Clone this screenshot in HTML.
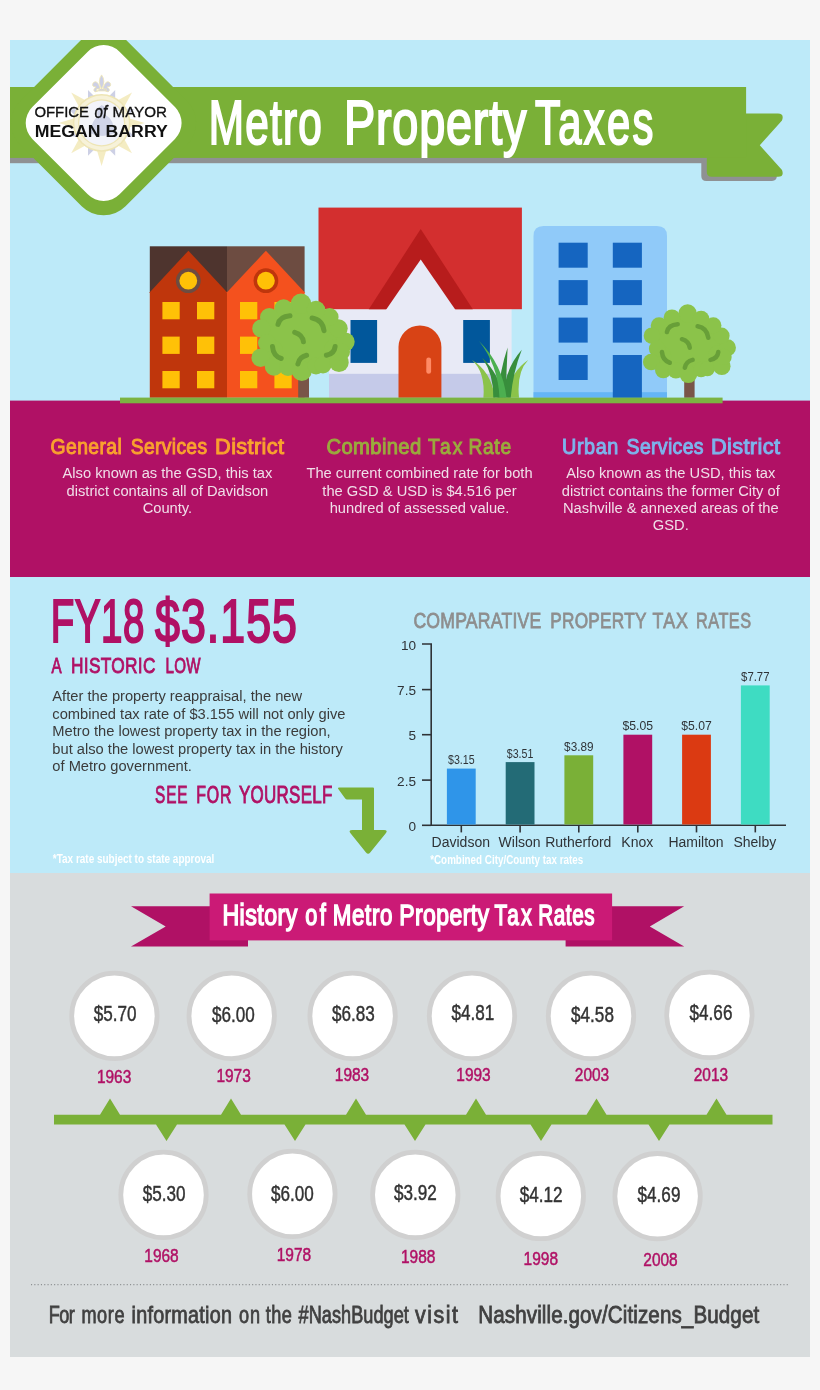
<!DOCTYPE html>
<html lang="en"><head><meta charset="utf-8"><title>Metro Property Taxes</title>
<style>
html,body{margin:0;padding:0;background:#f6f6f6;}
body{width:820px;height:1390px;overflow:hidden;}
svg{display:block;}
text{font-family:"Liberation Sans",Arial,sans-serif;}
</style></head><body>
<svg width="820" height="1390" viewBox="0 0 820 1390">
<defs><clipPath id="page"><rect x="10" y="40" width="800" height="1317"/></clipPath></defs>
<rect width="820" height="1390" fill="#f6f6f6"/>
<g clip-path="url(#page)">
<rect x="10" y="40" width="800" height="361" fill="#bdeaf9"/>
<rect x="10" y="400.6" width="800" height="176.4" fill="#b01165"/>
<rect x="10" y="577" width="800" height="296" fill="#bdeaf9"/>
<rect x="10" y="873" width="800" height="484" fill="#d8dcdd"/>
<rect x="10" y="157" width="692" height="6.2" fill="#8f9193"/>
<path d="M701.3 150 H740 V176 Q740 181 735 181 H706.3 Q701.3 181 701.3 176 Z" fill="#8f9193"/>
<path d="M720 170 H776 Q779 181 772 181 H720 Z" fill="#8f9193"/>
<path d="M706.8 113.6 H778 Q784.5 113.6 782 120.5 L759.8 145.3 L782 170 Q784.5 176.8 778 176.8 H711.8 Q706.8 176.8 706.8 171.8 Z" fill="#7ab037"/>
<rect x="10" y="87" width="736.1" height="70.9" fill="#7ab037"/>
<rect x="-74.5" y="-74.5" width="149" height="149" rx="31" fill="#7ab037" transform="translate(103.6 122.8) rotate(45)"/>
<rect x="-61.7" y="-61.7" width="123.4" height="123.4" rx="22.5" fill="#ffffff" transform="translate(103.65 123) rotate(45)"/>
<g opacity="0.66">
<path d="M107.7 97.6 L115.2 90.1 L115.2 100.7 Z" fill="#b4b9d8"/>
<path d="M116.0 101.2 L132.0 92.5 L123.3 108.5 Z" fill="#efe3a4"/>
<path d="M123.8 109.3 L134.4 109.3 L126.9 116.8 Z" fill="#b4b9d8"/>
<path d="M127.1 117.7 L144.6 122.9 L127.1 128.1 Z" fill="#efe3a4"/>
<path d="M126.9 129.0 L134.4 136.5 L123.8 136.5 Z" fill="#b4b9d8"/>
<path d="M123.3 137.3 L132.0 153.3 L116.0 144.6 Z" fill="#efe3a4"/>
<path d="M115.2 145.1 L115.2 155.7 L107.7 148.2 Z" fill="#b4b9d8"/>
<path d="M106.8 148.4 L101.6 165.9 L96.4 148.4 Z" fill="#efe3a4"/>
<path d="M95.5 148.2 L88.0 155.7 L88.0 145.1 Z" fill="#b4b9d8"/>
<path d="M87.2 144.6 L71.2 153.3 L79.9 137.3 Z" fill="#efe3a4"/>
<path d="M79.4 136.5 L68.8 136.5 L76.3 129.0 Z" fill="#b4b9d8"/>
<path d="M76.1 128.1 L58.6 122.9 L76.1 117.7 Z" fill="#efe3a4"/>
<path d="M76.3 116.8 L68.8 109.3 L79.4 109.3 Z" fill="#b4b9d8"/>
<path d="M79.9 108.5 L71.2 92.5 L87.2 101.2 Z" fill="#efe3a4"/>
<path d="M88.0 100.7 L88.0 90.1 L95.5 97.6 Z" fill="#b4b9d8"/>
<circle cx="101.6" cy="122.9" r="28.8" fill="#e6d88f"/>
<circle cx="101.6" cy="122.9" r="27.3" fill="#f3ecc6"/>
<circle cx="101.6" cy="122.9" r="23.6" fill="#e6d88f"/>
<circle cx="101.6" cy="122.9" r="22.4" fill="#edeff8"/>
<path d="M89.6 132.9 q3 -14 8 -16 q-2 -8 4 -12 q6 2 4 10 q8 4 9 18 q-12 6 -25 0 Z" fill="#b9bfdd"/>
<path d="M101.6 74.9 q4.5 6 0 14 q-4.5 -8 0 -14 Z M100.1 87.9 q-3 -9 -7 -5 q-2 4 3 4 q-4 3 -1 5 q3 0 5 -4 Z M103.1 87.9 q3 -9 7 -5 q2 4 -3 4 q4 3 1 5 q-3 0 -5 -4 Z M96.6 88.9 h10 v2 h-10 Z" fill="#b4b9d8" stroke="#e6d88f" stroke-width="0.8"/>
</g>
<text x="34.4" y="117" font-size="15" font-weight="normal" fill="#111" text-anchor="start" textLength="54.6" lengthAdjust="spacingAndGlyphs" stroke="#111" stroke-width="0.35">OFFICE</text>
<text x="94.5" y="117.6" font-size="17.5" font-style="italic" font-weight="normal" stroke="#111" stroke-width="0.4" fill="#111" font-family="'Liberation Serif',serif" textLength="12.6" lengthAdjust="spacingAndGlyphs">of</text>
<text x="112.6" y="117" font-size="15" font-weight="normal" fill="#111" text-anchor="start" textLength="54.4" lengthAdjust="spacingAndGlyphs" stroke="#111" stroke-width="0.35">MAYOR</text>
<text x="34.8" y="136.6" font-size="16.8" font-weight="bold" fill="#111" text-anchor="start" textLength="133" lengthAdjust="spacingAndGlyphs" >MEGAN BARRY</text>
<text transform="translate(208.8 144.05) scale(0.679 1)" font-size="62.35" font-weight="normal" fill="#ffffff" stroke="#ffffff" stroke-width="2.1" stroke-linejoin="miter" stroke-miterlimit="2.5" textLength="166.5" lengthAdjust="spacing">Metro</text>
<text transform="translate(344.0 144.05) scale(0.751 1)" font-size="62.35" font-weight="normal" fill="#ffffff" stroke="#ffffff" stroke-width="2.1" stroke-linejoin="miter" stroke-miterlimit="2.5" textLength="242.8" lengthAdjust="spacing">Property</text>
<text transform="translate(535.0 144.05) scale(0.669 1)" font-size="62.35" font-weight="normal" fill="#ffffff" stroke="#ffffff" stroke-width="2.1" stroke-linejoin="miter" stroke-miterlimit="2.5" textLength="177.0" lengthAdjust="spacing">Taxes</text>
<rect x="149.8" y="246.3" width="77.2" height="46.5" fill="#4e342e"/>
<rect x="227" y="246.3" width="77.6" height="46.5" fill="#6d4c41"/>
<path d="M149.8 397.8 V292.2 L188.4 250.7 L227 292.2 V397.8 Z" fill="#bf360c"/>
<path d="M227 397.8 V292.2 L265.9 250.7 L304.6 292.2 V397.8 Z" fill="#f4511e"/>
<circle cx="188.3" cy="280.7" r="12.4" fill="#6d4c41"/><circle cx="188.3" cy="280.7" r="8.9" fill="#ffc107"/>
<circle cx="265.9" cy="280.7" r="12.4" fill="#bf360c"/><circle cx="265.9" cy="280.7" r="8.9" fill="#ffc107"/>
<rect x="162.4" y="302" width="17.3" height="17.3" fill="#ffc107"/>
<rect x="162.4" y="336.6" width="17.3" height="17.3" fill="#ffc107"/>
<rect x="162.4" y="371" width="17.3" height="17.3" fill="#ffc107"/>
<rect x="197" y="302" width="17.3" height="17.3" fill="#ffc107"/>
<rect x="197" y="336.6" width="17.3" height="17.3" fill="#ffc107"/>
<rect x="197" y="371" width="17.3" height="17.3" fill="#ffc107"/>
<rect x="240" y="302" width="17.3" height="17.3" fill="#ffc107"/>
<rect x="240" y="336.6" width="17.3" height="17.3" fill="#ffc107"/>
<rect x="240" y="371" width="17.3" height="17.3" fill="#ffc107"/>
<rect x="274.4" y="302" width="17.3" height="17.3" fill="#ffc107"/>
<rect x="274.4" y="336.6" width="17.3" height="17.3" fill="#ffc107"/>
<rect x="274.4" y="371" width="17.3" height="17.3" fill="#ffc107"/>
<rect x="329" y="300" width="182.6" height="74" fill="#e8eaf6"/>
<rect x="329" y="373.8" width="182.6" height="24" fill="#c5cae9"/>
<rect x="318.5" y="207.6" width="203.4" height="101.6" fill="#d32f2f"/>
<path d="M420.7 229 L472.8 309.2 H368.8 Z" fill="#b71c1c"/>
<path d="M420.7 259.5 L455.2 309.4 V311 H386.2 V309.4 Z" fill="#e8eaf6"/>
<rect x="350.5" y="320" width="26.6" height="42.9" fill="#01579b"/>
<rect x="463.2" y="320" width="26.7" height="42.9" fill="#01579b"/>
<path d="M398.5 397.8 V347 A21.45 21.6 0 0 1 441.4 347 V397.8 Z" fill="#d84315"/>
<rect x="426.3" y="357.4" width="4.8" height="16.4" rx="2.4" fill="#ff8a65"/>
<path d="M533.5 397.8 V236 Q533.5 226 543.5 226 H657 Q667 226 667 236 V397.8 Z" fill="#90caf9"/>
<rect x="533.5" y="392.2" width="133.5" height="5.6" fill="#64b5f6"/>
<rect x="558.6" y="242.7" width="29.1" height="25" fill="#1565c0"/>
<rect x="558.6" y="280.1" width="29.1" height="25" fill="#1565c0"/>
<rect x="558.6" y="317.6" width="29.1" height="25" fill="#1565c0"/>
<rect x="558.6" y="355" width="29.1" height="25" fill="#1565c0"/>
<rect x="612.8" y="242.7" width="29.1" height="25" fill="#1565c0"/>
<rect x="612.8" y="280.1" width="29.1" height="25" fill="#1565c0"/>
<rect x="612.8" y="317.6" width="29.1" height="25" fill="#1565c0"/>
<rect x="612.8" y="355" width="29.1" height="42.8" fill="#1565c0"/>
<rect x="298.2" y="360" width="10.8" height="37.8" fill="#795548"/>
<g><ellipse cx="303" cy="338" rx="41" ry="32" fill="#8bc34a"/><circle cx="272" cy="351" r="11" fill="#8bc34a"/><circle cx="335" cy="350" r="11" fill="#8bc34a"/><circle cx="301" cy="303.8" r="10.2" fill="#8bc34a"/><circle cx="283.6" cy="308.5" r="9.3" fill="#8bc34a"/><circle cx="269.3" cy="317.3" r="9.3" fill="#8bc34a"/><circle cx="261.4" cy="328.4" r="9.2" fill="#8bc34a"/><circle cx="267" cy="343" r="9" fill="#8bc34a"/><circle cx="260.6" cy="357.7" r="9.2" fill="#8bc34a"/><circle cx="274" cy="366.6" r="9.2" fill="#8bc34a"/><circle cx="288" cy="367" r="9" fill="#8bc34a"/><circle cx="301.8" cy="371" r="10" fill="#8bc34a"/><circle cx="316" cy="366" r="8.5" fill="#8bc34a"/><circle cx="323" cy="365" r="8.5" fill="#8bc34a"/><circle cx="339" cy="362.4" r="9.7" fill="#8bc34a"/><circle cx="345.4" cy="341.8" r="9.3" fill="#8bc34a"/><circle cx="341" cy="352" r="9" fill="#8bc34a"/><circle cx="338.5" cy="328.5" r="9.2" fill="#8bc34a"/><circle cx="329.6" cy="317" r="9" fill="#8bc34a"/><circle cx="316" cy="310" r="9.3" fill="#8bc34a"/><path d="M278 324.4 Q279.6 316.5 290 315.7" fill="none" stroke="#689f38" stroke-width="5" stroke-linecap="round"/><path d="M312.1 318 Q322.4 319.6 324 330.7" fill="none" stroke="#689f38" stroke-width="5" stroke-linecap="round"/><path d="M294.7 332.3 Q302.6 334.7 303.4 341.8" fill="none" stroke="#689f38" stroke-width="5" stroke-linecap="round"/><path d="M272.5 346.6 Q273.3 356.1 281.2 358.5" fill="none" stroke="#689f38" stroke-width="5" stroke-linecap="round"/><path d="M297.9 364 Q299.4 356.9 306.6 355.3" fill="none" stroke="#689f38" stroke-width="5" stroke-linecap="round"/><path d="M326.4 355.3 Q334.3 353.7 335.1 346.6" fill="none" stroke="#689f38" stroke-width="5" stroke-linecap="round"/></g>
<path d="M483.4 397.8 Q485.5 372 471.9 360 Q491 371 495 397.8 Z" fill="#8bc34a"/>
<path d="M519 397.8 Q516.5 372 528.2 360 Q509 373 507.5 397.8 Z" fill="#8bc34a"/>
<path d="M493.3 397.8 Q494 375 482.2 357.7 Q500 375 503.5 397.8 Z" fill="#388e3c"/>
<path d="M503.6 397.8 Q504 370 521.8 349.8 Q513 372 510.7 397.8 Z" fill="#388e3c"/>
<path d="M497.5 397.8 Q500 370 507.6 347.4 Q506.5 372 505.5 397.8 Z" fill="#388e3c"/>
<path d="M499.5 397.8 Q498 365 479 341 Q503 365 506.5 397.8 Z" fill="#4caf50"/>
<rect x="684.2" y="375" width="10.4" height="22.8" fill="#795548"/>
<g transform="translate(689.4 343.6) scale(0.9) translate(-303 -337.2)"><g><ellipse cx="303" cy="338" rx="41" ry="32" fill="#8bc34a"/><circle cx="272" cy="351" r="11" fill="#8bc34a"/><circle cx="335" cy="350" r="11" fill="#8bc34a"/><circle cx="301" cy="303.8" r="10.2" fill="#8bc34a"/><circle cx="283.6" cy="308.5" r="9.3" fill="#8bc34a"/><circle cx="269.3" cy="317.3" r="9.3" fill="#8bc34a"/><circle cx="261.4" cy="328.4" r="9.2" fill="#8bc34a"/><circle cx="267" cy="343" r="9" fill="#8bc34a"/><circle cx="260.6" cy="357.7" r="9.2" fill="#8bc34a"/><circle cx="274" cy="366.6" r="9.2" fill="#8bc34a"/><circle cx="288" cy="367" r="9" fill="#8bc34a"/><circle cx="301.8" cy="371" r="10" fill="#8bc34a"/><circle cx="316" cy="366" r="8.5" fill="#8bc34a"/><circle cx="323" cy="365" r="8.5" fill="#8bc34a"/><circle cx="339" cy="362.4" r="9.7" fill="#8bc34a"/><circle cx="345.4" cy="341.8" r="9.3" fill="#8bc34a"/><circle cx="341" cy="352" r="9" fill="#8bc34a"/><circle cx="338.5" cy="328.5" r="9.2" fill="#8bc34a"/><circle cx="329.6" cy="317" r="9" fill="#8bc34a"/><circle cx="316" cy="310" r="9.3" fill="#8bc34a"/><path d="M278 324.4 Q279.6 316.5 290 315.7" fill="none" stroke="#689f38" stroke-width="5" stroke-linecap="round"/><path d="M312.1 318 Q322.4 319.6 324 330.7" fill="none" stroke="#689f38" stroke-width="5" stroke-linecap="round"/><path d="M294.7 332.3 Q302.6 334.7 303.4 341.8" fill="none" stroke="#689f38" stroke-width="5" stroke-linecap="round"/><path d="M272.5 346.6 Q273.3 356.1 281.2 358.5" fill="none" stroke="#689f38" stroke-width="5" stroke-linecap="round"/><path d="M297.9 364 Q299.4 356.9 306.6 355.3" fill="none" stroke="#689f38" stroke-width="5" stroke-linecap="round"/><path d="M326.4 355.3 Q334.3 353.7 335.1 346.6" fill="none" stroke="#689f38" stroke-width="5" stroke-linecap="round"/></g></g>
<rect x="120" y="397.6" width="602.6" height="5.7" fill="#7cb342"/>
<text transform="translate(50.6 453.9) scale(0.877 1)" font-size="22.09" font-weight="normal" fill="#f9a22e" stroke="#f9a22e" stroke-width="1.0" stroke-linejoin="miter" stroke-miterlimit="2.5" textLength="81.1" lengthAdjust="spacing">General</text>
<text transform="translate(130.8 453.9) scale(0.875 1)" font-size="22.09" font-weight="normal" fill="#f9a22e" stroke="#f9a22e" stroke-width="1.0" stroke-linejoin="miter" stroke-miterlimit="2.5" textLength="87.2" lengthAdjust="spacing">Services</text>
<text transform="translate(215.1 453.9) scale(0.985 1)" font-size="22.09" font-weight="normal" fill="#f9a22e" stroke="#f9a22e" stroke-width="1.0" stroke-linejoin="miter" stroke-miterlimit="2.5" textLength="70.0" lengthAdjust="spacing">District</text>
<text transform="translate(326.5 453.9) scale(0.918 1)" font-size="22.09" font-weight="normal" fill="#9aab3d" stroke="#9aab3d" stroke-width="1.0" stroke-linejoin="miter" stroke-miterlimit="2.5" textLength="103.2" lengthAdjust="spacing">Combined</text>
<text transform="translate(428.1 453.9) scale(0.872 1)" font-size="22.09" font-weight="normal" fill="#9aab3d" stroke="#9aab3d" stroke-width="1.0" stroke-linejoin="miter" stroke-miterlimit="2.5" textLength="39.4" lengthAdjust="spacing">Tax</text>
<text transform="translate(468.4 453.9) scale(0.868 1)" font-size="22.09" font-weight="normal" fill="#9aab3d" stroke="#9aab3d" stroke-width="1.0" stroke-linejoin="miter" stroke-miterlimit="2.5" textLength="49.2" lengthAdjust="spacing">Rate</text>
<text transform="translate(562.0 453.9) scale(0.898 1)" font-size="22.09" font-weight="normal" fill="#7db4ec" stroke="#7db4ec" stroke-width="1.0" stroke-linejoin="miter" stroke-miterlimit="2.5" textLength="62.7" lengthAdjust="spacing">Urban</text>
<text transform="translate(626.6 453.9) scale(0.882 1)" font-size="22.09" font-weight="normal" fill="#7db4ec" stroke="#7db4ec" stroke-width="1.0" stroke-linejoin="miter" stroke-miterlimit="2.5" textLength="87.2" lengthAdjust="spacing">Services</text>
<text transform="translate(711.0 453.9) scale(0.985 1)" font-size="22.09" font-weight="normal" fill="#7db4ec" stroke="#7db4ec" stroke-width="1.0" stroke-linejoin="miter" stroke-miterlimit="2.5" textLength="70.0" lengthAdjust="spacing">District</text>
<text x="167.4" y="478.3" font-size="14.7" font-weight="normal" fill="#f0dfe9" text-anchor="middle" >Also known as the GSD, this tax</text>
<text x="167.4" y="495.6" font-size="14.7" font-weight="normal" fill="#f0dfe9" text-anchor="middle" >district contains all of Davidson</text>
<text x="167.4" y="512.8" font-size="14.7" font-weight="normal" fill="#f0dfe9" text-anchor="middle" >County.</text>
<text x="419.5" y="478.3" font-size="14.7" font-weight="normal" fill="#f0dfe9" text-anchor="middle" >The current combined rate for both</text>
<text x="419.5" y="495.6" font-size="14.7" font-weight="normal" fill="#f0dfe9" text-anchor="middle" >the GSD &amp; USD is $4.516 per</text>
<text x="419.5" y="512.8" font-size="14.7" font-weight="normal" fill="#f0dfe9" text-anchor="middle" >hundred of assessed value.</text>
<text x="670.8" y="478.3" font-size="14.7" font-weight="normal" fill="#f0dfe9" text-anchor="middle" >Also known as the USD, this tax</text>
<text x="670.8" y="495.6" font-size="14.7" font-weight="normal" fill="#f0dfe9" text-anchor="middle" >district contains the former City of</text>
<text x="670.8" y="512.8" font-size="14.7" font-weight="normal" fill="#f0dfe9" text-anchor="middle" >Nashville &amp; annexed areas of the</text>
<text x="670.8" y="530.0" font-size="14.7" font-weight="normal" fill="#f0dfe9" text-anchor="middle" >GSD.</text>
<text transform="translate(50.8 641.65) scale(0.627 1)" font-size="61.48" font-weight="normal" fill="#b01165" stroke="#b01165" stroke-width="2.1" stroke-linejoin="miter" stroke-miterlimit="2.5" textLength="149.3" lengthAdjust="spacing">FY18</text>
<text transform="translate(155.1 641.65) scale(0.727 1)" font-size="61.48" font-weight="normal" fill="#b01165" stroke="#b01165" stroke-width="2.1" stroke-linejoin="miter" stroke-miterlimit="2.5" textLength="195.1" lengthAdjust="spacing">$3.155</text>
<text transform="translate(51.5 672.95) scale(0.663 1)" font-size="22.82" font-weight="normal" fill="#b01165" stroke="#b01165" stroke-width="0.9" stroke-linejoin="miter" stroke-miterlimit="2.5" textLength="17.4" lengthAdjust="spacing">A</text>
<text transform="translate(71.1 672.95) scale(0.758 1)" font-size="22.82" font-weight="normal" fill="#b01165" stroke="#b01165" stroke-width="0.9" stroke-linejoin="miter" stroke-miterlimit="2.5" textLength="111.2" lengthAdjust="spacing">HISTORIC</text>
<text transform="translate(165.5 672.95) scale(0.663 1)" font-size="22.82" font-weight="normal" fill="#b01165" stroke="#b01165" stroke-width="0.9" stroke-linejoin="miter" stroke-miterlimit="2.5" textLength="52.7" lengthAdjust="spacing">LOW</text>
<text x="52.3" y="701.1" font-size="14.7" font-weight="normal" fill="#3b3b3b" text-anchor="start" >After the property reappraisal, the new</text>
<text x="52.3" y="718.6" font-size="14.7" font-weight="normal" fill="#3b3b3b" text-anchor="start" >combined tax rate of $3.155 will not only give</text>
<text x="52.3" y="736.2" font-size="14.7" font-weight="normal" fill="#3b3b3b" text-anchor="start" >Metro the lowest property tax in the region,</text>
<text x="52.3" y="753.8" font-size="14.7" font-weight="normal" fill="#3b3b3b" text-anchor="start" >but also the lowest property tax in the history</text>
<text x="52.3" y="771.3" font-size="14.7" font-weight="normal" fill="#3b3b3b" text-anchor="start" >of Metro government.</text>
<text transform="translate(155.0 803.35) scale(0.657 1)" font-size="23.4" font-weight="normal" fill="#b01165" stroke="#b01165" stroke-width="0.9" stroke-linejoin="miter" stroke-miterlimit="2.5" textLength="49.5" lengthAdjust="spacing">SEE</text>
<text transform="translate(196.2 803.35) scale(0.679 1)" font-size="23.4" font-weight="normal" fill="#b01165" stroke="#b01165" stroke-width="0.9" stroke-linejoin="miter" stroke-miterlimit="2.5" textLength="52.1" lengthAdjust="spacing">FOR</text>
<text transform="translate(239.0 803.35) scale(0.725 1)" font-size="23.4" font-weight="normal" fill="#b01165" stroke="#b01165" stroke-width="0.9" stroke-linejoin="miter" stroke-miterlimit="2.5" textLength="128.8" lengthAdjust="spacing">YOURSELF</text>
<path d="M339.5 787.6 H373 Q374 787.6 374 788.6 V830.1 H384 Q388.5 830.3 385.6 833.6 L370.2 852.6 Q368.1 855 366 852.6 L350.7 833.6 Q347.8 830.3 352.3 830.1 H362 V799.4 H347 Q346 799.4 345.2 798.4 L338.3 789 Q337.3 787.6 339.5 787.6 Z" fill="#7ab037"/>
<text x="52.8" y="863.3" font-size="12.4" font-weight="bold" fill="#ffffff" text-anchor="start" textLength="161.6" lengthAdjust="spacingAndGlyphs" >*Tax rate subject to state approval</text>
<text transform="translate(413.4 628.1) scale(0.789 1)" font-size="22.38" font-weight="normal" fill="#8e8e8e" stroke="#8e8e8e" stroke-width="0.8" stroke-linejoin="miter" stroke-miterlimit="2.5" textLength="162.1" lengthAdjust="spacing">COMPARATIVE</text>
<text transform="translate(550.2 628.1) scale(0.769 1)" font-size="22.38" font-weight="normal" fill="#8e8e8e" stroke="#8e8e8e" stroke-width="0.8" stroke-linejoin="miter" stroke-miterlimit="2.5" textLength="125.3" lengthAdjust="spacing">PROPERTY</text>
<text transform="translate(652.6 628.1) scale(0.798 1)" font-size="22.38" font-weight="normal" fill="#8e8e8e" stroke="#8e8e8e" stroke-width="0.8" stroke-linejoin="miter" stroke-miterlimit="2.5" textLength="44.4" lengthAdjust="spacing">TAX</text>
<text transform="translate(696.1 628.1) scale(0.728 1)" font-size="22.38" font-weight="normal" fill="#8e8e8e" stroke="#8e8e8e" stroke-width="0.8" stroke-linejoin="miter" stroke-miterlimit="2.5" textLength="75.5" lengthAdjust="spacing">RATES</text>
<path d="M422 644 H431.2 V825.3 H786" fill="none" stroke="#2f3337" stroke-width="1.6"/>
<path d="M422 689.6 H431.2" stroke="#2f3337" stroke-width="1.6"/>
<path d="M422 734.7 H431.2" stroke="#2f3337" stroke-width="1.6"/>
<path d="M422 780.1 H431.2" stroke="#2f3337" stroke-width="1.6"/>
<path d="M422 825.3 H431.2" stroke="#2f3337" stroke-width="1.6"/>
<text x="416" y="649.5" font-size="13.6" font-weight="normal" fill="#2f3337" text-anchor="end" >10</text>
<text x="416" y="695" font-size="13.6" font-weight="normal" fill="#2f3337" text-anchor="end" >7.5</text>
<text x="416" y="740.2" font-size="13.6" font-weight="normal" fill="#2f3337" text-anchor="end" >5</text>
<text x="416" y="785.6" font-size="13.6" font-weight="normal" fill="#2f3337" text-anchor="end" >2.5</text>
<text x="416" y="830.8" font-size="13.6" font-weight="normal" fill="#2f3337" text-anchor="end" >0</text>
<rect x="446.9" y="768.6" width="28.8" height="55.9" fill="#2f95e9"/>
<path d="M461.3 826 V832.4" stroke="#2f3337" stroke-width="1.6"/>
<text x="448.0" y="764.2" font-size="12.6" font-weight="normal" fill="#2f3337" text-anchor="start" textLength="26.6" lengthAdjust="spacingAndGlyphs" >$3.15</text>
<text x="460.8" y="846.6" font-size="14" font-weight="normal" fill="#2f3337" text-anchor="middle" >Davidson</text>
<rect x="505.7" y="762.1" width="28.8" height="62.4" fill="#236b76"/>
<path d="M520.1 826 V832.4" stroke="#2f3337" stroke-width="1.6"/>
<text x="506.8" y="757.7" font-size="12.6" font-weight="normal" fill="#2f3337" text-anchor="start" textLength="26.6" lengthAdjust="spacingAndGlyphs" >$3.51</text>
<text x="519.6" y="846.6" font-size="14" font-weight="normal" fill="#2f3337" text-anchor="middle" >Wilson</text>
<rect x="564.4" y="755.3" width="28.8" height="69.2" fill="#7ab037"/>
<path d="M578.8 826 V832.4" stroke="#2f3337" stroke-width="1.6"/>
<text x="564.1" y="750.9" font-size="12.6" font-weight="normal" fill="#2f3337" text-anchor="start" textLength="29.4" lengthAdjust="spacingAndGlyphs" >$3.89</text>
<text x="578.3" y="846.6" font-size="14" font-weight="normal" fill="#2f3337" text-anchor="middle" >Rutherford</text>
<rect x="623.4" y="734.7" width="28.8" height="89.8" fill="#b01165"/>
<path d="M637.8 826 V832.4" stroke="#2f3337" stroke-width="1.6"/>
<text x="622.5" y="730.3" font-size="12.6" font-weight="normal" fill="#2f3337" text-anchor="start" textLength="30.6" lengthAdjust="spacingAndGlyphs" >$5.05</text>
<text x="637.3" y="846.6" font-size="14" font-weight="normal" fill="#2f3337" text-anchor="middle" >Knox</text>
<rect x="682.1" y="734.7" width="28.8" height="89.8" fill="#db3a12"/>
<path d="M696.5 826 V832.4" stroke="#2f3337" stroke-width="1.6"/>
<text x="681.3" y="730.3" font-size="12.6" font-weight="normal" fill="#2f3337" text-anchor="start" textLength="30.4" lengthAdjust="spacingAndGlyphs" >$5.07</text>
<text x="696.0" y="846.6" font-size="14" font-weight="normal" fill="#2f3337" text-anchor="middle" >Hamilton</text>
<rect x="740.9" y="685.4" width="28.8" height="139.1" fill="#3edcc2"/>
<path d="M755.3 826 V832.4" stroke="#2f3337" stroke-width="1.6"/>
<text x="741.1" y="681.0" font-size="12.6" font-weight="normal" fill="#2f3337" text-anchor="start" textLength="28.4" lengthAdjust="spacingAndGlyphs" >$7.77</text>
<text x="754.8" y="846.6" font-size="14" font-weight="normal" fill="#2f3337" text-anchor="middle" >Shelby</text>
<text x="430.2" y="864.4" font-size="12.4" font-weight="bold" fill="#ffffff" text-anchor="start" textLength="153" lengthAdjust="spacingAndGlyphs" >*Combined City/County tax rates</text>
<path d="M131 906.3 H248 V946.6 H131 L165.7 926.5 Z" fill="#b01165"/>
<path d="M565.6 906.3 H684.2 L649.8 926.5 L684.2 946.6 H565.6 Z" fill="#b01165"/>
<rect x="209.6" y="893.5" width="402.5" height="46.9" fill="#cb1a76"/>
<text transform="translate(222.4 924.55) scale(0.807 1)" font-size="28.78" font-weight="normal" fill="#ffffff" stroke="#ffffff" stroke-width="1.5" stroke-linejoin="miter" stroke-miterlimit="2.5" textLength="92.9" lengthAdjust="spacing">History</text>
<text transform="translate(305.2 924.55) scale(0.754 1)" font-size="28.78" font-weight="normal" fill="#ffffff" stroke="#ffffff" stroke-width="1.5" stroke-linejoin="miter" stroke-miterlimit="2.5" textLength="27.3" lengthAdjust="spacing">of</text>
<text transform="translate(332.8 924.55) scale(0.776 1)" font-size="28.78" font-weight="normal" fill="#ffffff" stroke="#ffffff" stroke-width="1.5" stroke-linejoin="miter" stroke-miterlimit="2.5" textLength="76.9" lengthAdjust="spacing">Metro</text>
<text transform="translate(399.3 924.55) scale(0.800 1)" font-size="28.78" font-weight="normal" fill="#ffffff" stroke="#ffffff" stroke-width="1.5" stroke-linejoin="miter" stroke-miterlimit="2.5" textLength="112.1" lengthAdjust="spacing">Property</text>
<text transform="translate(494.6 924.55) scale(0.723 1)" font-size="28.78" font-weight="normal" fill="#ffffff" stroke="#ffffff" stroke-width="1.5" stroke-linejoin="miter" stroke-miterlimit="2.5" textLength="51.3" lengthAdjust="spacing">Tax</text>
<text transform="translate(538.3 924.55) scale(0.717 1)" font-size="28.78" font-weight="normal" fill="#ffffff" stroke="#ffffff" stroke-width="1.5" stroke-linejoin="miter" stroke-miterlimit="2.5" textLength="78.4" lengthAdjust="spacing">Rates</text>
<circle cx="114.4" cy="1015.9" r="42.7" fill="#ffffff" stroke="#d0d0d0" stroke-width="4.8"/>
<text x="93.7" y="1020.6" font-size="21.6" font-weight="normal" fill="#333333" text-anchor="start" textLength="42.8" lengthAdjust="spacingAndGlyphs" stroke="#333333" stroke-width="0.45">$5.70</text>
<text x="96.9" y="1082.6" font-size="18.6" font-weight="normal" fill="#b01165" text-anchor="start" textLength="34.4" lengthAdjust="spacingAndGlyphs" stroke="#b01165" stroke-width="0.5">1963</text>
<circle cx="231.7" cy="1015.9" r="42.7" fill="#ffffff" stroke="#d0d0d0" stroke-width="4.8"/>
<text x="211.9" y="1021.5" font-size="21.6" font-weight="normal" fill="#333333" text-anchor="start" textLength="42.8" lengthAdjust="spacingAndGlyphs" stroke="#333333" stroke-width="0.45">$6.00</text>
<text x="216.4" y="1081.7" font-size="18.6" font-weight="normal" fill="#b01165" text-anchor="start" textLength="34.4" lengthAdjust="spacingAndGlyphs" stroke="#b01165" stroke-width="0.5">1973</text>
<circle cx="352.6" cy="1015.9" r="42.7" fill="#ffffff" stroke="#d0d0d0" stroke-width="4.8"/>
<text x="332.0" y="1020.9" font-size="21.6" font-weight="normal" fill="#333333" text-anchor="start" textLength="42.8" lengthAdjust="spacingAndGlyphs" stroke="#333333" stroke-width="0.45">$6.83</text>
<text x="334.8" y="1081.2" font-size="18.6" font-weight="normal" fill="#b01165" text-anchor="start" textLength="34.4" lengthAdjust="spacingAndGlyphs" stroke="#b01165" stroke-width="0.5">1983</text>
<circle cx="472" cy="1015.9" r="42.7" fill="#ffffff" stroke="#d0d0d0" stroke-width="4.8"/>
<text x="451.5" y="1020" font-size="21.6" font-weight="normal" fill="#333333" text-anchor="start" textLength="42.8" lengthAdjust="spacingAndGlyphs" stroke="#333333" stroke-width="0.45">$4.81</text>
<text x="456.3" y="1081.2" font-size="18.6" font-weight="normal" fill="#b01165" text-anchor="start" textLength="34.4" lengthAdjust="spacingAndGlyphs" stroke="#b01165" stroke-width="0.5">1993</text>
<circle cx="591" cy="1015.9" r="42.7" fill="#ffffff" stroke="#d0d0d0" stroke-width="4.8"/>
<text x="571.1" y="1022.3" font-size="21.6" font-weight="normal" fill="#333333" text-anchor="start" textLength="42.8" lengthAdjust="spacingAndGlyphs" stroke="#333333" stroke-width="0.45">$4.58</text>
<text x="574.8" y="1081.2" font-size="18.6" font-weight="normal" fill="#b01165" text-anchor="start" textLength="34.4" lengthAdjust="spacingAndGlyphs" stroke="#b01165" stroke-width="0.5">2003</text>
<circle cx="709.4" cy="1014.9" r="42.7" fill="#ffffff" stroke="#d0d0d0" stroke-width="4.8"/>
<text x="689.6" y="1020" font-size="21.6" font-weight="normal" fill="#333333" text-anchor="start" textLength="42.8" lengthAdjust="spacingAndGlyphs" stroke="#333333" stroke-width="0.45">$4.66</text>
<text x="693.7" y="1081.2" font-size="18.6" font-weight="normal" fill="#b01165" text-anchor="start" textLength="34.4" lengthAdjust="spacingAndGlyphs" stroke="#b01165" stroke-width="0.5">2013</text>
<circle cx="163.5" cy="1194.9" r="42.7" fill="#ffffff" stroke="#d0d0d0" stroke-width="4.8"/>
<text x="142.8" y="1200.9" font-size="21.6" font-weight="normal" fill="#333333" text-anchor="start" textLength="42.8" lengthAdjust="spacingAndGlyphs" stroke="#333333" stroke-width="0.45">$5.30</text>
<text x="144.3" y="1261.7" font-size="18.6" font-weight="normal" fill="#b01165" text-anchor="start" textLength="34.4" lengthAdjust="spacingAndGlyphs" stroke="#b01165" stroke-width="0.5">1968</text>
<circle cx="292.4" cy="1193.9" r="42.7" fill="#ffffff" stroke="#d0d0d0" stroke-width="4.8"/>
<text x="271.0" y="1200.9" font-size="21.6" font-weight="normal" fill="#333333" text-anchor="start" textLength="42.8" lengthAdjust="spacingAndGlyphs" stroke="#333333" stroke-width="0.45">$6.00</text>
<text x="276.7" y="1260.6" font-size="18.6" font-weight="normal" fill="#b01165" text-anchor="start" textLength="34.4" lengthAdjust="spacingAndGlyphs" stroke="#b01165" stroke-width="0.5">1978</text>
<circle cx="415.3" cy="1194.9" r="42.7" fill="#ffffff" stroke="#d0d0d0" stroke-width="4.8"/>
<text x="394.0" y="1200" font-size="21.6" font-weight="normal" fill="#333333" text-anchor="start" textLength="42.8" lengthAdjust="spacingAndGlyphs" stroke="#333333" stroke-width="0.45">$3.92</text>
<text x="401.0" y="1262.6" font-size="18.6" font-weight="normal" fill="#b01165" text-anchor="start" textLength="34.4" lengthAdjust="spacingAndGlyphs" stroke="#b01165" stroke-width="0.5">1988</text>
<circle cx="540.8" cy="1196" r="42.7" fill="#ffffff" stroke="#d0d0d0" stroke-width="4.8"/>
<text x="519.8" y="1202" font-size="21.6" font-weight="normal" fill="#333333" text-anchor="start" textLength="42.8" lengthAdjust="spacingAndGlyphs" stroke="#333333" stroke-width="0.45">$4.12</text>
<text x="523.6" y="1265.0" font-size="18.6" font-weight="normal" fill="#b01165" text-anchor="start" textLength="34.4" lengthAdjust="spacingAndGlyphs" stroke="#b01165" stroke-width="0.5">1998</text>
<circle cx="657.6" cy="1196.2" r="42.7" fill="#ffffff" stroke="#d0d0d0" stroke-width="4.8"/>
<text x="637.6" y="1202.3" font-size="21.6" font-weight="normal" fill="#333333" text-anchor="start" textLength="42.8" lengthAdjust="spacingAndGlyphs" stroke="#333333" stroke-width="0.45">$4.69</text>
<text x="643.3" y="1265.5" font-size="18.6" font-weight="normal" fill="#b01165" text-anchor="start" textLength="34.4" lengthAdjust="spacingAndGlyphs" stroke="#b01165" stroke-width="0.5">2008</text>
<path d="M54 1114.8 H100 L110 1098.5 L120 1114.8 H221 L231 1098.5 L241 1114.8 H346 L356 1098.5 L366 1114.8 H466 L476 1098.5 L486 1114.8 H586.5 L596.5 1098.5 L606.5 1114.8 H706.5 L716.5 1098.5 L726.5 1114.8 H772.5 V1124.6 H669.5 L659 1141 L648.5 1124.6 H551.5 L541 1141 L530.5 1124.6 H425.5 L415 1141 L404.5 1124.6 H305.5 L295 1141 L284.5 1124.6 H177.0 L166.5 1141 L156.0 1124.6 H54 Z" fill="#7ab037"/>
<path d="M31 1284.6 H788.5" stroke="#8d9092" stroke-width="1.2" stroke-dasharray="1.1 2.2" fill="none"/>
<text transform="translate(48.8 1322.9) scale(0.759 1)" font-size="23.84" font-weight="normal" fill="#404040" stroke="#404040" stroke-width="0.8" stroke-linejoin="miter" stroke-miterlimit="2.5" textLength="34.1" lengthAdjust="spacing">For</text>
<text transform="translate(81.4 1322.9) scale(0.759 1)" font-size="23.84" font-weight="normal" fill="#404040" stroke="#404040" stroke-width="0.8" stroke-linejoin="miter" stroke-miterlimit="2.5" textLength="56.8" lengthAdjust="spacing">more</text>
<text transform="translate(131.6 1322.9) scale(0.831 1)" font-size="23.84" font-weight="normal" fill="#404040" stroke="#404040" stroke-width="0.8" stroke-linejoin="miter" stroke-miterlimit="2.5" textLength="120.7" lengthAdjust="spacing">information</text>
<text transform="translate(239.0 1322.9) scale(0.759 1)" font-size="23.84" font-weight="normal" fill="#404040" stroke="#404040" stroke-width="0.8" stroke-linejoin="miter" stroke-miterlimit="2.5" textLength="27.8" lengthAdjust="spacing">on</text>
<text transform="translate(265.8 1322.9) scale(0.759 1)" font-size="23.84" font-weight="normal" fill="#404040" stroke="#404040" stroke-width="0.8" stroke-linejoin="miter" stroke-miterlimit="2.5" textLength="34.2" lengthAdjust="spacing">the</text>
<text transform="translate(298.5 1322.9) scale(0.759 1)" font-size="23.84" font-weight="normal" fill="#404040" stroke="#404040" stroke-width="0.8" stroke-linejoin="miter" stroke-miterlimit="2.5" textLength="145.4" lengthAdjust="spacing">#NashBudget</text>
<text transform="translate(415.1 1322.9) scale(0.898 1)" font-size="23.84" font-weight="normal" fill="#404040" stroke="#404040" stroke-width="0.8" stroke-linejoin="miter" stroke-miterlimit="2.5" textLength="47.6" lengthAdjust="spacing">visit</text>
<text transform="translate(478.3 1322.9) scale(0.865 1)" font-size="23.84" font-weight="normal" fill="#404040" stroke="#404040" stroke-width="0.8" stroke-linejoin="miter" stroke-miterlimit="2.5" textLength="324.7" lengthAdjust="spacing">Nashville.gov/Citizens_Budget</text>
</g></svg></body></html>
